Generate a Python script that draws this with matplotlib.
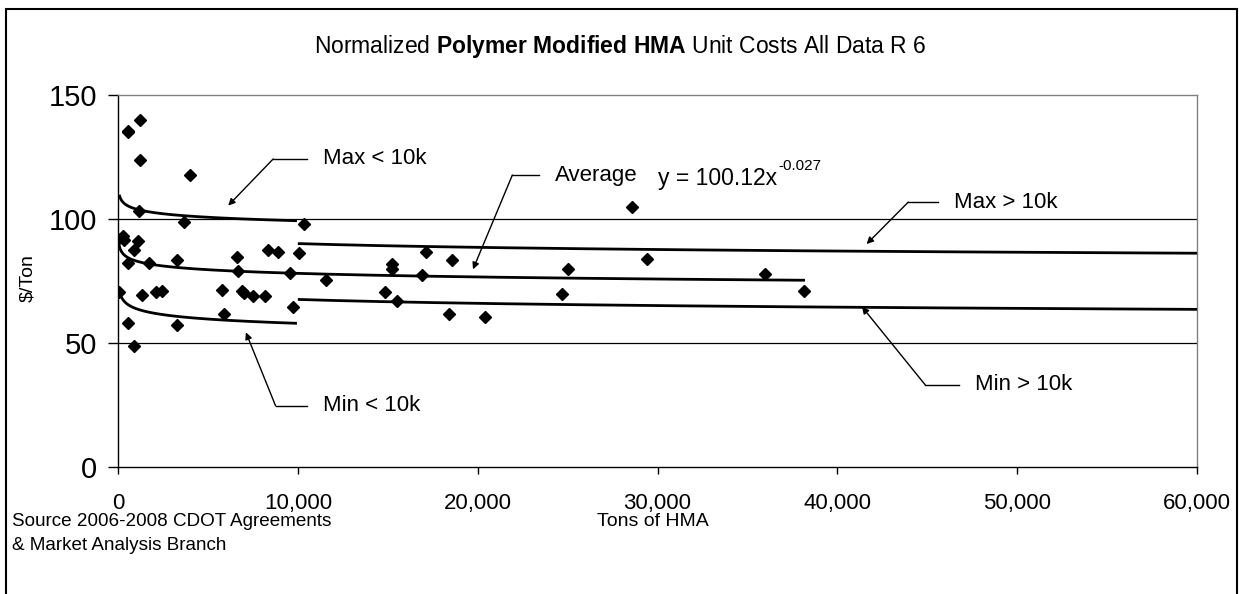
import matplotlib
matplotlib.use("Agg")
import matplotlib.pyplot as plt
from matplotlib.patches import Rectangle
from matplotlib.ticker import FuncFormatter
import numpy as np

plt.rcParams['font.family'] = ['Liberation Sans', 'DejaVu Sans']
plt.rcParams['mathtext.fontset'] = 'custom'
plt.rcParams['mathtext.rm'] = 'Liberation Sans'
plt.rcParams['mathtext.bf'] = 'Liberation Sans:bold'
plt.rcParams['mathtext.it'] = 'Liberation Sans:italic'

# scatter data (tons, $/ton)
tons = [556, 1222, 572, 1222, 4000, 1185, 3685, 10333, 296, 20, 352, 1093,
        907, 537, 1741, 3259, 6593, 8352, 8907, 10074, 6685, 9556, 11593,
        74, 1315, 2093, 2426, 5759, 6870, 7000, 7519, 8167, 9741, 5907,
        537, 3259, 907, 17148, 18593, 15259, 15259, 16926, 25019, 14833,
        15519, 24667, 18407, 20407, 28574, 29426, 36000, 38167]
cost = [135.5, 140.0, 135.0, 123.8, 117.7, 103.3, 98.9, 98.0, 93.1, 92.0, 91.5, 91.3,
        87.5, 82.1, 82.1, 83.5, 84.8, 87.5, 86.8, 86.4, 79.0, 78.1, 75.4,
        70.4, 69.4, 70.4, 71.1, 71.4, 71.1, 70.0, 68.9, 68.9, 64.6, 61.6,
        57.9, 57.3, 48.9, 86.8, 83.5, 81.7, 80.0, 77.3, 79.8, 70.7,
        67.1, 69.6, 61.7, 60.3, 105.0, 83.9, 77.8, 71.1]

# power trendlines y = a * x^b
trend_names = ["Max < 10k", "Min < 10k", "Average", "Max > 10k", "Min > 10k"]
trend_a = [119.6, 85.6, 100.12, 113.0, 92.5]
trend_b = [-0.0202, -0.0424, -0.027, -0.0246, -0.0341]
trend_x0 = [70, 70, 25, 10000, 10000]
trend_x1 = [9950, 9950, 38200, 60000, 60000]

W, H = 1242, 594
fig = plt.figure(figsize=(W / 100, H / 100), dpi=100)
ax = fig.add_axes([118 / W, 1 - 467 / H, (1197 - 118) / W, (467 - 95) / H])

for a, b, x0, x1 in zip(trend_a, trend_b, trend_x0, trend_x1):
    xs = np.geomspace(x0, x1, 300)
    ax.plot(xs, a * xs ** b, color='black', lw=2, solid_capstyle='butt', zorder=3)

ax.plot(tons, cost, linestyle='none', marker='D', markersize=6.5,
        color='black', zorder=4)

ax.set_xlim(0, 60000)
ax.set_ylim(0, 150)
ax.set_xticks([0, 10000, 20000, 30000, 40000, 50000, 60000])
ax.set_yticks([0, 50, 100, 150])
ax.xaxis.set_major_formatter(FuncFormatter(lambda v, p: f"{int(v):,}"))
ax.tick_params(axis='y', labelsize=21, length=7, width=1, direction='out', pad=8)
ax.tick_params(axis='x', labelsize=16, length=5, width=1, direction='out', pad=14)
for yv in [50, 100]:
    ax.axhline(yv, color='black', lw=0.9, zorder=1)
ax.spines['top'].set_color('#808080')
ax.spines['right'].set_color('#808080')
for s in ax.spines.values():
    s.set_linewidth(1)

# callouts: label, elbow, line end, arrow tip
callouts = [
    ("Max < 10k", (8628, 124.2), (10483, 124.2), (6128, 105.4)),
    ("Min < 10k", (8761, 24.7), (10483, 24.7), (7111, 54.3)),
    ("Average", (21928, 117.7), (23406, 117.7), (19739, 79.7)),
    ("Max > 10k", (43944, 106.8), (45611, 106.8), (41628, 89.9)),
    ("Min > 10k", (44889, 33.1), (46778, 33.1), (41370, 64.6)),
]
for label, elbow, end, tip in callouts:
    ax.plot([elbow[0], end[0]], [elbow[1], end[1]], color='black', lw=1, zorder=5)
    ax.annotate('', xy=tip, xytext=elbow,
                arrowprops=dict(arrowstyle='-|>', color='black', lw=1,
                                shrinkA=0, shrinkB=0, mutation_scale=10))
    ax.text(end[0] + 900, end[1], label, fontsize=16, va='center', ha='left')

ax.text(30018, 116.5, "y = 100.12x", fontsize=16.5, va='center', ha='left')
ax.text(36700, 121.5, "-0.027", fontsize=11, va='center', ha='left')

fig.text(620 / W, 1 - 47 / H,
         r"Normalized $\bf{Polymer\ Modified\ HMA}$ Unit Costs All Data R 6",
         fontsize=16.5, ha='center', va='center')
fig.text(28 / W, 1 - 278 / H, "$/Ton", fontsize=14, rotation=90,
         ha='center', va='center')
fig.text(653 / W, 1 - 522 / H, "Tons of HMA", fontsize=14, ha='center', va='center')
fig.text(12 / W, 1 - 522 / H, "Source 2006-2008 CDOT Agreements", fontsize=13.6,
         ha='left', va='center')
fig.text(12 / W, 1 - 545 / H, "& Market Analysis Branch", fontsize=13.6,
         ha='left', va='center')

fig.patches.append(Rectangle((6 / W, -0.05), (1237 - 6) / W, 1.05 - 9 / H,
                             transform=fig.transFigure, fill=False,
                             edgecolor='black', lw=1.5))

fig.savefig("out.png", dpi=100)
